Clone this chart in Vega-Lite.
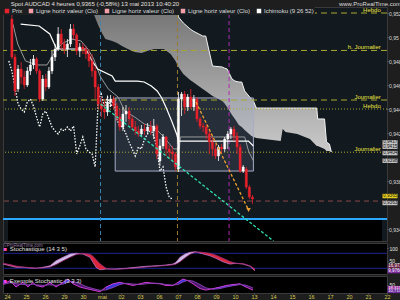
{
"$schema":"https://vega.github.io/schema/vega-lite/v6.json",
"background":"#1e1e1e",
"padding":0,
"spacing":0,
"title":{"text":"Spot AUDCAD 4 heures 0,9365 (-0,58%) 13 mai 2013 10:40:20","anchor":"start","fontSize":6,"font":"Liberation Sans","fontWeight":"normal","color":"#e0e0e0","offset":-7,"dx":10},
"config":{"view":{"stroke":"#3a3a3a"},"axis":{"labelFont":"Liberation Sans","labelFontSize":5,"labelColor":"#dcdcdc","domain":false,"grid":false,"tickSize":1,"tickColor":"#666666","labelOverlap":false},"text":{"font":"Liberation Sans"}},
"resolve":{"scale":{"x":"independent","y":"independent","color":"independent"},"legend":{"color":"independent"}},
"datasets":{
"candles":[
{"u":0,"o":0.9515,"h":0.95208,"l":0.94817,"c":0.94833},
{"u":1,"o":0.94833,"h":0.94858,"l":0.94508,"c":0.9455},
{"u":2,"o":0.94567,"h":0.94767,"l":0.94542,"c":0.94733},
{"u":3,"o":0.94733,"h":0.94792,"l":0.94608,"c":0.94667},
{"u":4,"o":0.94667,"h":0.94717,"l":0.94567,"c":0.946},
{"u":5,"o":0.946,"h":0.9475,"l":0.94583,"c":0.94717},
{"u":6,"o":0.94717,"h":0.94817,"l":0.94683,"c":0.94767},
{"u":7,"o":0.94767,"h":0.9485,"l":0.94733,"c":0.94817},
{"u":8,"o":0.94817,"h":0.94833,"l":0.94692,"c":0.94717},
{"u":9,"o":0.94717,"h":0.94733,"l":0.94458,"c":0.94483},
{"u":10,"o":0.94483,"h":0.94683,"l":0.94467,"c":0.9465},
{"u":11,"o":0.9465,"h":0.94692,"l":0.9455,"c":0.94583},
{"u":12,"o":0.94583,"h":0.9475,"l":0.94567,"c":0.94717},
{"u":13,"o":0.94717,"h":0.94883,"l":0.94692,"c":0.94833},
{"u":14,"o":0.94833,"h":0.94942,"l":0.948,"c":0.949},
{"u":15,"o":0.949,"h":0.95083,"l":0.94883,"c":0.95025},
{"u":16,"o":0.95025,"h":0.95067,"l":0.949,"c":0.94942},
{"u":17,"o":0.94942,"h":0.94983,"l":0.94858,"c":0.949},
{"u":18,"o":0.949,"h":0.94983,"l":0.94833,"c":0.94942},
{"u":19,"o":0.94942,"h":0.95108,"l":0.94917,"c":0.95067},
{"u":20,"o":0.95067,"h":0.95108,"l":0.94983,"c":0.95017},
{"u":21,"o":0.95017,"h":0.95033,"l":0.9485,"c":0.94883},
{"u":22,"o":0.94883,"h":0.9495,"l":0.94833,"c":0.94917},
{"u":23,"o":0.94917,"h":0.9495,"l":0.94858,"c":0.949},
{"u":24,"o":0.949,"h":0.94925,"l":0.94817,"c":0.94858},
{"u":25,"o":0.94858,"h":0.949,"l":0.9475,"c":0.948},
{"u":26,"o":0.948,"h":0.94858,"l":0.94667,"c":0.94717},
{"u":27,"o":0.94717,"h":0.94758,"l":0.94483,"c":0.94583},
{"u":28,"o":0.94583,"h":0.94608,"l":0.944,"c":0.94442},
{"u":29,"o":0.94442,"h":0.945,"l":0.94333,"c":0.944},
{"u":30,"o":0.944,"h":0.94483,"l":0.94317,"c":0.94375},
{"u":31,"o":0.94375,"h":0.945,"l":0.94342,"c":0.94458},
{"u":32,"o":0.94458,"h":0.94517,"l":0.94417,"c":0.94483},
{"u":33,"o":0.94483,"h":0.94508,"l":0.944,"c":0.94425},
{"u":34,"o":0.94425,"h":0.9445,"l":0.943,"c":0.94333},
{"u":35,"o":0.94333,"h":0.944,"l":0.94217,"c":0.9425},
{"u":36,"o":0.9425,"h":0.94417,"l":0.94217,"c":0.94358},
{"u":37,"o":0.94358,"h":0.94433,"l":0.94292,"c":0.94383},
{"u":38,"o":0.94383,"h":0.94417,"l":0.94267,"c":0.94317},
{"u":39,"o":0.94317,"h":0.94342,"l":0.94225,"c":0.9425},
{"u":40,"o":0.9425,"h":0.943,"l":0.94183,"c":0.94217},
{"u":41,"o":0.94217,"h":0.94258,"l":0.94167,"c":0.94192},
{"u":42,"o":0.94192,"h":0.94267,"l":0.94167,"c":0.94233},
{"u":43,"o":0.94233,"h":0.94275,"l":0.94183,"c":0.94217},
{"u":44,"o":0.94217,"h":0.94283,"l":0.94192,"c":0.9425},
{"u":45,"o":0.9425,"h":0.943,"l":0.94183,"c":0.94217},
{"u":46,"o":0.94217,"h":0.94317,"l":0.9415,"c":0.94258},
{"u":47,"o":0.94258,"h":0.94275,"l":0.93983,"c":0.94025},
{"u":48,"o":0.93967,"h":0.9415,"l":0.93925,"c":0.94092},
{"u":49,"o":0.94092,"h":0.94192,"l":0.94067,"c":0.94167},
{"u":50,"o":0.94167,"h":0.94175,"l":0.94008,"c":0.94067},
{"u":51,"o":0.94067,"h":0.941,"l":0.93983,"c":0.94042},
{"u":52,"o":0.94042,"h":0.94092,"l":0.93958,"c":0.94025},
{"u":53,"o":0.94025,"h":0.94042,"l":0.93883,"c":0.93917},
{"u":54,"o":0.939,"h":0.94542,"l":0.93875,"c":0.94483},
{"u":55,"o":0.94483,"h":0.94542,"l":0.94342,"c":0.94525},
{"u":56,"o":0.94525,"h":0.9455,"l":0.94358,"c":0.94417},
{"u":57,"o":0.94417,"h":0.94525,"l":0.94383,"c":0.945},
{"u":58,"o":0.945,"h":0.94567,"l":0.944,"c":0.94417},
{"u":59,"o":0.94417,"h":0.94517,"l":0.94383,"c":0.94483},
{"u":60,"o":0.94483,"h":0.945,"l":0.94292,"c":0.94317},
{"u":61,"o":0.94317,"h":0.94333,"l":0.94233,"c":0.94258},
{"u":62,"o":0.94258,"h":0.94283,"l":0.94208,"c":0.9425},
{"u":63,"o":0.9425,"h":0.94275,"l":0.9415,"c":0.94192},
{"u":64,"o":0.94192,"h":0.94233,"l":0.94025,"c":0.94125},
{"u":65,"o":0.94125,"h":0.94167,"l":0.94008,"c":0.94067},
{"u":66,"o":0.94067,"h":0.94108,"l":0.93983,"c":0.94008},
{"u":67,"o":0.94008,"h":0.941,"l":0.93967,"c":0.94083},
{"u":68,"o":0.94083,"h":0.94108,"l":0.94025,"c":0.94067},
{"u":69,"o":0.94067,"h":0.94167,"l":0.94042,"c":0.9415},
{"u":70,"o":0.9415,"h":0.94217,"l":0.94067,"c":0.94192},
{"u":71,"o":0.94192,"h":0.9425,"l":0.9415,"c":0.94233},
{"u":72,"o":0.94233,"h":0.94258,"l":0.94133,"c":0.94175},
{"u":73,"o":0.94175,"h":0.94208,"l":0.94025,"c":0.94083},
{"u":74,"o":0.94083,"h":0.94108,"l":0.93867,"c":0.93883},
{"u":75,"o":0.93883,"h":0.93933,"l":0.93867,"c":0.93917},
{"u":76,"o":0.939,"h":0.93917,"l":0.93733,"c":0.9375},
{"u":77,"o":0.9375,"h":0.93767,"l":0.9365,"c":0.93667},
{"u":78,"o":0.93667,"h":0.93683,"l":0.93608,"c":0.9365}
],
"chikou":[
{"u":-1,"p":0.948},{"u":0,"p":0.94717},{"u":1,"p":0.94583},{"u":2,"p":0.94442},{"u":3,"p":0.944},{"u":4,"p":0.94375},{"u":5,"p":0.94458},{"u":6,"p":0.94483},{"u":7,"p":0.94425},{"u":8,"p":0.94333},{"u":9,"p":0.9425},{"u":10,"p":0.94358},{"u":11,"p":0.94383},{"u":12,"p":0.94317},{"u":13,"p":0.9425},{"u":14,"p":0.94217},{"u":15,"p":0.94192},{"u":16,"p":0.94233},{"u":17,"p":0.94217},{"u":18,"p":0.9425},{"u":19,"p":0.94217},{"u":20,"p":0.94258},{"u":21,"p":0.94025},{"u":22,"p":0.94092},{"u":23,"p":0.94167},{"u":24,"p":0.94067},{"u":25,"p":0.94042},{"u":26,"p":0.94025},{"u":27,"p":0.93917},{"u":28,"p":0.94483},{"u":29,"p":0.94525},{"u":30,"p":0.94417},{"u":31,"p":0.945},{"u":32,"p":0.94417},{"u":33,"p":0.94483},{"u":34,"p":0.94317},{"u":35,"p":0.94258},{"u":36,"p":0.9425},{"u":37,"p":0.94192},{"u":38,"p":0.94125},{"u":39,"p":0.94067},{"u":40,"p":0.94008},{"u":41,"p":0.94083},{"u":42,"p":0.94067},{"u":43,"p":0.9415},{"u":44,"p":0.94192},{"u":45,"p":0.94233},{"u":46,"p":0.94175},{"u":47,"p":0.94083},{"u":48,"p":0.93883},{"u":49,"p":0.93917},{"u":50,"p":0.9375},{"u":51,"p":0.93667},{"u":52,"p":0.9365}
],
"kijun":[
{"u":2.84,"p":0.95108},{"u":8.84,"p":0.95092},{"u":12.3,"p":0.95025},{"u":14.5,"p":0.949},{"u":24,"p":0.949},{"u":26.2,"p":0.94792},{"u":27.8,"p":0.94733},{"u":32.5,"p":0.94675},{"u":33.5,"p":0.94633},{"u":40.7,"p":0.94633},{"u":42.9,"p":0.94625},{"u":45.2,"p":0.94592},{"u":47.1,"p":0.9455},{"u":48.6,"p":0.94492},{"u":50.2,"p":0.944},{"u":51.8,"p":0.943},{"u":53.4,"p":0.94192},{"u":54,"p":0.94133},{"u":76.7,"p":0.94133},{"u":78.3,"p":0.94092}
],
"tenkan":[
{"u":0.32,"p":0.95108},{"u":1.89,"p":0.94942},{"u":4.42,"p":0.948},{"u":8.21,"p":0.94767},{"u":11.37,"p":0.94767},{"u":13.58,"p":0.94858},{"u":16.1,"p":0.94942},{"u":19.26,"p":0.94983},{"u":22.42,"p":0.94967},{"u":24.63,"p":0.949},{"u":26.53,"p":0.94817},{"u":28.74,"p":0.94667},{"u":31.26,"p":0.94567},{"u":34.42,"p":0.945},{"u":36.63,"p":0.94383},{"u":39.79,"p":0.94333},{"u":42.95,"p":0.94275},{"u":46.1,"p":0.9425},{"u":49.26,"p":0.94167},{"u":52.42,"p":0.94067},{"u":54.3,"p":0.94067},{"u":54.63,"p":0.94167},{"u":75.47,"p":0.94167},{"u":76.74,"p":0.9405},{"u":78.32,"p":0.93967}
],
"cloud":[
{"u":25.58,"top":0.95317,"bot":0.9525},{"u":26.53,"top":0.95317,"bot":0.95192},{"u":28.11,"top":0.95317,"bot":0.95092},{"u":29.37,"top":0.95317,"bot":0.95025},{"u":30.32,"top":0.95317,"bot":0.94983},{"u":32.53,"top":0.95317,"bot":0.94967},{"u":34.11,"top":0.95317,"bot":0.9495},{"u":35.68,"top":0.95317,"bot":0.94925},{"u":37.58,"top":0.95317,"bot":0.949},{"u":39.79,"top":0.95317,"bot":0.94875},{"u":42,"top":0.95317,"bot":0.94867},{"u":43.89,"top":0.95317,"bot":0.94883},{"u":46.11,"top":0.95317,"bot":0.949},{"u":49.26,"top":0.95317,"bot":0.949},{"u":51.47,"top":0.95317,"bot":0.94858},{"u":53.05,"top":0.95317,"bot":0.948},{"u":54,"top":0.95167,"bot":0.9475},{"u":55.58,"top":0.95117,"bot":0.94692},{"u":57.79,"top":0.95067,"bot":0.94642},{"u":58.74,"top":0.9505,"bot":0.94625},{"u":61.89,"top":0.95008,"bot":0.94567},{"u":62.84,"top":0.95008,"bot":0.9455},{"u":65.05,"top":0.94758,"bot":0.94508},{"u":68.21,"top":0.9475,"bot":0.94467},{"u":68.84,"top":0.94742,"bot":0.9445},{"u":69.79,"top":0.94733,"bot":0.94417},{"u":71.37,"top":0.9465,"bot":0.9435},{"u":72.32,"top":0.94633,"bot":0.94317},{"u":73.58,"top":0.94625,"bot":0.94267},{"u":74.53,"top":0.94625,"bot":0.9425},{"u":75.47,"top":0.9455,"bot":0.94225},{"u":77.68,"top":0.94483,"bot":0.94175},{"u":78.32,"top":0.94467,"bot":0.94167},{"u":79.26,"top":0.94408,"bot":0.94158},{"u":81.79,"top":0.94408,"bot":0.9415},{"u":87.16,"top":0.94408,"bot":0.94133},{"u":87.79,"top":0.94408,"bot":0.94233},{"u":88.74,"top":0.94408,"bot":0.94208},{"u":92.53,"top":0.94408,"bot":0.94192},{"u":96.63,"top":0.94408,"bot":0.9415},{"u":98.84,"top":0.94408,"bot":0.94092},{"u":99.16,"top":0.94317,"bot":0.94092},{"u":101.37,"top":0.94317,"bot":0.94067},{"u":102,"top":0.94125,"bot":0.9405},{"u":102.95,"top":0.94108,"bot":0.9405},{"u":103.58,"top":0.94042,"bot":0.94042}
],
"hlines":[
{"p":0.952,"kind":"dash","label":"Hebdo"},{"p":0.94888,"kind":"dash","label":"h. Journalier"},{"p":0.94475,"kind":"dash","label":"Journalier"},{"p":0.944,"kind":"dot","label":"Hebdo"},{"p":0.9404,"kind":"dot","label":"Journalier"}
],
"vlines":[{"u":28.74,"kind":"a"},{"u":53.68,"kind":"b"},{"u":70.42,"kind":"c"}],
"plabels":[
{"p":0.94122,"t":"0,9417","k":"g"},{"p":0.94086,"t":"0,9415","k":"g"},{"p":0.94033,"t":"0,9404","k":"g"},{"p":0.93969,"t":"0,9398","k":"g"},{"p":0.93675,"t":"0,9365","k":"y"},{"p":0.93617,"t":"0,9363","k":"g"}
],
"stoch":[
{"u":-1.26,"k":37,"d":40,"seg":1,"dir":"down"},{"u":0.95,"k":30,"d":35,"seg":1,"dir":"down"},{"u":2.84,"k":24,"d":29,"seg":1,"dir":"down"},{"u":5.05,"k":24,"d":25,"seg":1,"dir":"down"},{"u":7.26,"k":21,"d":23,"seg":1,"dir":"down"},{"u":9.16,"k":20,"d":21,"seg":1,"dir":"down"},{"u":9.79,"k":21,"d":21,"seg":1,"dir":"down"},
{"u":9.79,"k":21,"d":21,"seg":2,"dir":"up"},{"u":11.37,"k":24,"d":21,"seg":2,"dir":"up"},{"u":13.58,"k":30,"d":25,"seg":2,"dir":"up"},{"u":15.47,"k":50,"d":35,"seg":2,"dir":"up"},{"u":17.68,"k":64,"d":50,"seg":2,"dir":"up"},{"u":19.89,"k":77,"d":64,"seg":2,"dir":"up"},{"u":21.79,"k":80,"d":75,"seg":2,"dir":"up"},{"u":23.05,"k":78,"d":78,"seg":2,"dir":"up"},
{"u":23.05,"k":78,"d":78,"seg":3,"dir":"down"},{"u":24,"k":77,"d":80,"seg":3,"dir":"down"},{"u":26.21,"k":64,"d":76,"seg":3,"dir":"down"},{"u":27.16,"k":44,"d":68,"seg":3,"dir":"down"},{"u":28.11,"k":24,"d":55,"seg":3,"dir":"down"},{"u":29.37,"k":14,"d":38,"seg":3,"dir":"down"},{"u":31.26,"k":17,"d":20,"seg":3,"dir":"down"},{"u":32.84,"k":17,"d":17,"seg":3,"dir":"down"},
{"u":32.84,"k":17,"d":17,"seg":4,"dir":"up"},{"u":34.42,"k":17,"d":16,"seg":4,"dir":"up"},{"u":37.58,"k":20,"d":18,"seg":4,"dir":"up"},{"u":40.74,"k":24,"d":21,"seg":4,"dir":"up"},{"u":43.89,"k":28,"d":25,"seg":4,"dir":"up"},{"u":47.05,"k":30,"d":28,"seg":4,"dir":"up"},{"u":50.21,"k":33,"d":31,"seg":4,"dir":"up"},{"u":52.42,"k":37,"d":34,"seg":4,"dir":"up"},{"u":53.37,"k":44,"d":37,"seg":4,"dir":"up"},{"u":54.63,"k":64,"d":46,"seg":4,"dir":"up"},{"u":56.21,"k":77,"d":62,"seg":4,"dir":"up"},{"u":57.79,"k":84,"d":76,"seg":4,"dir":"up"},{"u":59.37,"k":86,"d":84,"seg":4,"dir":"up"},{"u":60,"k":85,"d":85,"seg":4,"dir":"up"},
{"u":60,"k":85,"d":85,"seg":5,"dir":"down"},{"u":60.95,"k":81,"d":85,"seg":5,"dir":"down"},{"u":64.11,"k":70,"d":80,"seg":5,"dir":"down"},{"u":66,"k":60,"d":72,"seg":5,"dir":"down"},{"u":68.21,"k":46,"d":60,"seg":5,"dir":"down"},{"u":70.42,"k":37,"d":47,"seg":5,"dir":"down"},{"u":72.32,"k":40,"d":40,"seg":5,"dir":"down"},{"u":74.53,"k":37,"d":39,"seg":5,"dir":"down"},{"u":76.74,"k":28,"d":30,"seg":5,"dir":"down"},{"u":78.32,"k":10,"d":17,"seg":5,"dir":"down"}
],
"fast":[
{"u":-1.26,"k":54,"d":50},{"u":0.95,"k":72,"d":60},{"u":2.84,"k":35,"d":55},{"u":5.05,"k":63,"d":50},{"u":6.63,"k":35,"d":48},{"u":8.21,"k":63,"d":52},{"u":9.16,"k":44,"d":48},{"u":11.37,"k":35,"d":45},{"u":13.58,"k":63,"d":48},{"u":15.47,"k":35,"d":45},{"u":17.68,"k":63,"d":52},{"u":19.26,"k":82,"d":65},{"u":20.84,"k":54,"d":68},{"u":23.05,"k":35,"d":55},{"u":24.95,"k":26,"d":38},{"u":27.16,"k":17,"d":26},{"u":29.37,"k":7,"d":16},{"u":31.26,"k":35,"d":18},{"u":33.47,"k":54,"d":32},{"u":35.68,"k":63,"d":50},{"u":37.58,"k":54,"d":57},{"u":39.79,"k":44,"d":53},{"u":42,"k":54,"d":50},{"u":43.89,"k":63,"d":54},{"u":46.11,"k":57,"d":58},{"u":48.32,"k":54,"d":56},{"u":50.21,"k":44,"d":50},{"u":52.42,"k":44,"d":47},{"u":54,"k":63,"d":50},{"u":55.58,"k":82,"d":65},{"u":57.16,"k":72,"d":75},{"u":58.74,"k":54,"d":70},{"u":60.95,"k":26,"d":50},{"u":62.84,"k":17,"d":30},{"u":65.05,"k":26,"d":22},{"u":67.26,"k":35,"d":26},{"u":69.16,"k":44,"d":35},{"u":71.37,"k":50,"d":43},{"u":73.58,"k":54,"d":50},{"u":75.47,"k":35,"d":46},{"u":77.68,"k":17,"d":30}
],
"fastup":[
{"u":17.68,"k":63,"d":52,"seg":9},{"u":19.26,"k":82,"d":65,"seg":9},{"u":20.84,"k":54,"d":68,"seg":9},
{"u":31.26,"k":35,"d":18,"seg":11},{"u":33.47,"k":54,"d":32,"seg":11},{"u":35.68,"k":63,"d":50,"seg":11},{"u":37.58,"k":54,"d":57,"seg":11},
{"u":54,"k":63,"d":50,"seg":15},{"u":55.58,"k":82,"d":65,"seg":15},{"u":57.16,"k":72,"d":75,"seg":15},
{"u":65.05,"k":26,"d":22,"seg":17},{"u":67.26,"k":35,"d":26,"seg":17},{"u":69.16,"k":44,"d":35,"seg":17},{"u":71.37,"k":50,"d":43,"seg":17},{"u":73.58,"k":54,"d":50,"seg":17},{"u":75.47,"k":35,"d":46,"seg":17}
]
},
"vconcat":[
{
"width":384,"height":234,
"title":{"text":"www.ProRealTime.com","anchor":"end","frame":"group","fontSize":6,"font":"Liberation Sans","fontWeight":"normal","color":"#dddddd","offset":0,"dx":14},
"view":{"fill":"#121a1f","stroke":"#3a3a3a"},
"layer":[
{"data":{"values":[{"a":0.933,"b":0.93483}]},"mark":{"type":"rect","color":"#000000"},
 "encoding":{"x":{"datum":-1.263,"type":"quantitative","scale":{"domain":[-1.263,120],"nice":false,"zero":false},"axis":null},"x2":{"datum":120},
 "y":{"field":"a","type":"quantitative","scale":{"domain":[0.933,0.9525],"nice":false,"zero":false},"axis":{"orient":"right","values":[0.934,0.938,0.942,0.944,0.946,0.948,0.95,0.952],"tickCount":40,"labelExpr":"replace(format(datum.value, '.3~f'), '.', ',')","title":null,"labelPadding":0.5,"labelOverlap":false}},"y2":{"field":"b"}}},
{"data":{"name":"cloud"},"mark":{"type":"area","clip":true,"color":{"gradient":"linear","x1":0,"y1":0,"x2":0,"y2":1,"stops":[{"offset":0,"color":"#6e6e6e"},{"offset":1,"color":"#cacaca"}]}},
 "encoding":{"x":{"field":"u","type":"quantitative","scale":{"domain":[-1.263,120],"nice":false,"zero":false},"axis":null},"y":{"field":"top","type":"quantitative","scale":{"domain":[0.933,0.9525],"nice":false,"zero":false}},"y2":{"field":"bot"}}},
{"data":{"name":"cloud"},"transform":[{"filter":"datum.u >= 53"}],"mark":{"type":"line","color":"#f2f2f2","strokeWidth":1,"clip":true},
 "encoding":{"x":{"field":"u","type":"quantitative","scale":{"domain":[-1.263,120],"nice":false,"zero":false},"axis":null},"y":{"field":"top","type":"quantitative","scale":{"domain":[0.933,0.9525],"nice":false,"zero":false}}}},
{"data":{"values":[{"u1":33.5,"u2":78.3,"p1":0.94492,"p2":0.93883}]},"mark":{"type":"rect","fill":"#8a9ac0","fillOpacity":0.16,"stroke":"#a8acc8","strokeWidth":1},
 "encoding":{"x":{"field":"u1","type":"quantitative","scale":{"domain":[-1.263,120],"nice":false,"zero":false},"axis":null},"x2":{"field":"u2"},"y":{"field":"p1","type":"quantitative","scale":{"domain":[0.933,0.9525],"nice":false,"zero":false}},"y2":{"field":"p2"}}},
{"data":{"name":"hlines"},"mark":{"type":"rule","color":"#a8a832","strokeWidth":1},
 "encoding":{"y":{"field":"p","type":"quantitative","scale":{"domain":[0.933,0.9525],"nice":false,"zero":false}},"strokeDash":{"field":"kind","type":"nominal","scale":{"domain":["dash","dot"],"range":[[6,4],[1,2]]},"legend":null}}},
{"data":{"values":[{"p":0.93633}]},"mark":{"type":"rule","color":"#8c4a4a","strokeWidth":1,"strokeDash":[5,4]},
 "encoding":{"y":{"field":"p","type":"quantitative","scale":{"domain":[0.933,0.9525],"nice":false,"zero":false}}}},
{"data":{"values":[{"p":0.93483}]},"mark":{"type":"rule","color":"#2ea8ff","strokeWidth":2},
 "encoding":{"y":{"field":"p","type":"quantitative","scale":{"domain":[0.933,0.9525],"nice":false,"zero":false}}}},
{"data":{"name":"vlines"},"mark":{"type":"rule","strokeWidth":1,"strokeDash":[4,3]},
 "encoding":{"x":{"field":"u","type":"quantitative","scale":{"domain":[-1.263,120],"nice":false,"zero":false},"axis":null},"stroke":{"field":"kind","type":"nominal","scale":{"domain":["a","b","c"],"range":["#3b86b0","#9a7a30","#b02cb0"]},"legend":null}}},
{"data":{"name":"tenkan"},"mark":{"type":"line","color":"#9a9a9a","strokeWidth":1,"clip":true},
 "encoding":{"x":{"field":"u","type":"quantitative","scale":{"domain":[-1.263,120],"nice":false,"zero":false},"axis":null},"y":{"field":"p","type":"quantitative","scale":{"domain":[0.933,0.9525],"nice":false,"zero":false}}}},
{"data":{"name":"kijun"},"mark":{"type":"line","color":"#ffffff","strokeWidth":1.2,"clip":true},
 "encoding":{"x":{"field":"u","type":"quantitative","scale":{"domain":[-1.263,120],"nice":false,"zero":false},"axis":null},"y":{"field":"p","type":"quantitative","scale":{"domain":[0.933,0.9525],"nice":false,"zero":false}}}},
{"data":{"name":"chikou"},"mark":{"type":"line","color":"#ffffff","strokeWidth":1.3,"strokeDash":[1.5,1.5],"clip":true},
 "encoding":{"x":{"field":"u","type":"quantitative","scale":{"domain":[-1.263,120],"nice":false,"zero":false},"axis":null},"y":{"field":"p","type":"quantitative","scale":{"domain":[0.933,0.9525],"nice":false,"zero":false}}}},
{"data":{"name":"candles"},"mark":{"type":"rule","strokeWidth":0.8},
 "encoding":{"x":{"field":"u","type":"quantitative","scale":{"domain":[-1.263,120],"nice":false,"zero":false},"axis":null},"y":{"field":"l","type":"quantitative","scale":{"domain":[0.933,0.9525],"nice":false,"zero":false}},"y2":{"field":"h"},
 "color":{"condition":{"test":"datum.c >= datum.o","value":"#ffffff"},"value":"#e8222c"}}},
{"data":{"name":"candles"},"mark":{"type":"bar","size":2.2,"strokeWidth":0.4},
 "encoding":{"x":{"field":"u","type":"quantitative","scale":{"domain":[-1.263,120],"nice":false,"zero":false},"axis":null},"y":{"field":"o","type":"quantitative","scale":{"domain":[0.933,0.9525],"nice":false,"zero":false}},"y2":{"field":"c"},
 "fill":{"condition":{"test":"datum.c >= datum.o","value":"#ffffff"},"value":"#e8222c"},
 "stroke":{"condition":{"test":"datum.c >= datum.o","value":"#ffffff"},"value":"#e8222c"}}},
{"data":{"values":[{"u":28.74,"p":0.94442},{"u":84.8,"p":0.933}]},"mark":{"type":"line","color":"#2ee0b0","strokeWidth":1.3,"strokeDash":[3,2],"clip":true},
 "encoding":{"x":{"field":"u","type":"quantitative","scale":{"domain":[-1.263,120],"nice":false,"zero":false},"axis":null},"y":{"field":"p","type":"quantitative","scale":{"domain":[0.933,0.9525],"nice":false,"zero":false}}}},
{"data":{"values":[{"u":59.68,"p":0.94458},{"u":76.74,"p":0.93558}]},"mark":{"type":"line","color":"#f0a030","strokeWidth":1.3,"strokeDash":[3,2]},
 "encoding":{"x":{"field":"u","type":"quantitative","scale":{"domain":[-1.263,120],"nice":false,"zero":false},"axis":null},"y":{"field":"p","type":"quantitative","scale":{"domain":[0.933,0.9525],"nice":false,"zero":false}}}},
{"data":{"values":[{"u":76.74,"p":0.93558}]},"mark":{"type":"point","shape":"triangle-down","filled":true,"color":"#f0a030","size":20,"opacity":1},
 "encoding":{"x":{"field":"u","type":"quantitative","scale":{"domain":[-1.263,120],"nice":false,"zero":false},"axis":null},"y":{"field":"p","type":"quantitative","scale":{"domain":[0.933,0.9525],"nice":false,"zero":false}}}},
{"data":{"name":"hlines"},"mark":{"type":"text","align":"right","baseline":"bottom","fontSize":6,"color":"#f0e040","dy":-0.5},
 "encoding":{"x":{"datum":119.6,"type":"quantitative","scale":{"domain":[-1.263,120],"nice":false,"zero":false},"axis":null},"y":{"field":"p","type":"quantitative","scale":{"domain":[0.933,0.9525],"nice":false,"zero":false}},"text":{"field":"label"}}},
{"data":{"name":"plabels"},"mark":{"type":"tick","orient":"horizontal","size":15,"thickness":4.5,"opacity":1},
 "encoding":{"x":{"datum":122.6,"type":"quantitative","scale":{"domain":[-1.263,120],"nice":false,"zero":false},"axis":null},"y":{"field":"p","type":"quantitative","scale":{"domain":[0.933,0.9525],"nice":false,"zero":false}},
 "color":{"condition":{"test":"datum.k == 'y'","value":"#e8d020"},"value":"#c4c4c4"}}},
{"data":{"name":"plabels"},"mark":{"type":"text","align":"left","baseline":"middle","fontSize":4.6,"color":"#111111"},
 "encoding":{"x":{"datum":120.4,"type":"quantitative","scale":{"domain":[-1.263,120],"nice":false,"zero":false},"axis":null},"y":{"field":"p","type":"quantitative","scale":{"domain":[0.933,0.9525],"nice":false,"zero":false}},"text":{"field":"t"}}},
{"data":{"values":[{"name":"Prix"},{"name":"Ligne horiz valeur (Clo)"},{"name":"Ligne horiz valeur (Clo) "},{"name":"Ligne horiz valeur (Clo)  "},{"name":"Ichimoku (9 26 52)"}]},
 "mark":{"type":"square","opacity":0,"size":1},
 "encoding":{"color":{"field":"name","type":"nominal","scale":{"domain":["Prix","Ligne horiz valeur (Clo)","Ligne horiz valeur (Clo) ","Ligne horiz valeur (Clo)  ","Ichimoku (9 26 52)"],"range":["#e8222c","#f4a0a8","#f4a0a8","#f4a0a8","#ffffff"]},
 "legend":{"orient":"top-left","direction":"horizontal","title":null,"labelFontSize":6,"labelColor":"#dddddd","labelFont":"Liberation Sans","symbolType":"square","symbolSize":20,"symbolOpacity":1,"columnPadding":5,"padding":1,"offset":0,"fillColor":"#1b1f22","labelOffset":2,"labelLimit":200,"encode":{"symbols":{"update":{"opacity":{"value":1}}}}}}}}
]
},
{
"width":384,"height":31,
"view":{"fill":"#000000","stroke":"#3a3a3a"},
"layer":[
{"data":{"values":[{"v":80},{"v":20}]},"mark":{"type":"rule","color":"#1c2690","strokeWidth":1},
 "encoding":{"y":{"field":"v","type":"quantitative","scale":{"domain":[-2.8,121.2],"nice":false,"zero":false},"axis":{"orient":"right","values":[50,100],"tickCount":10,"title":null,"labelColor":"#e8e8e8","labelPadding":1}}}},
{"data":{"name":"stoch"},"mark":{"type":"area","opacity":0.95},
 "encoding":{"x":{"field":"u","type":"quantitative","scale":{"domain":[-1.263,120],"nice":false,"zero":false},"axis":null},"y":{"field":"k","type":"quantitative","stack":null,"scale":{"domain":[-2.8,121.2],"nice":false,"zero":false}},"y2":{"field":"d"},
 "color":{"field":"dir","type":"nominal","scale":{"domain":["down","up"],"range":["#e8283c","#d8c8f0"]},"legend":null},"detail":{"field":"seg"}}},
{"data":{"name":"stoch"},"mark":{"type":"line","color":"#c070c8","strokeWidth":0.8},
 "encoding":{"x":{"field":"u","type":"quantitative","scale":{"domain":[-1.263,120],"nice":false,"zero":false},"axis":null},"y":{"field":"k","type":"quantitative","scale":{"domain":[-2.8,121.2],"nice":false,"zero":false}}}},
{"data":{"name":"stoch"},"mark":{"type":"line","color":"#9a2a7a","strokeWidth":0.8},
 "encoding":{"x":{"field":"u","type":"quantitative","scale":{"domain":[-1.263,120],"nice":false,"zero":false},"axis":null},"y":{"field":"d","type":"quantitative","scale":{"domain":[-2.8,121.2],"nice":false,"zero":false}}}},
{"data":{"values":[{"t":"©ProRealTime.com"}]},"mark":{"type":"text","align":"left","baseline":"middle","fontSize":4.5,"color":"#9a7aa8"},
 "encoding":{"x":{"datum":-1.1,"type":"quantitative","scale":{"domain":[-1.263,120],"nice":false,"zero":false},"axis":null},"y":{"datum":111,"type":"quantitative","scale":{"domain":[-2.8,121.2],"nice":false,"zero":false}},"text":{"field":"t"}}},
{"data":{"values":[{"t":"■"}]},"mark":{"type":"text","align":"left","baseline":"middle","fontSize":6,"color":"#f050c0"},
 "encoding":{"x":{"datum":-1.1,"type":"quantitative","scale":{"domain":[-1.263,120],"nice":false,"zero":false},"axis":null},"y":{"datum":98,"type":"quantitative","scale":{"domain":[-2.8,121.2],"nice":false,"zero":false}},"text":{"field":"t"}}},
{"data":{"values":[{"t":"Stochastique (14 3 5)"}]},"mark":{"type":"text","align":"left","baseline":"middle","fontSize":6,"color":"#e0e0e0"},
 "encoding":{"x":{"datum":0.9,"type":"quantitative","scale":{"domain":[-1.263,120],"nice":false,"zero":false},"axis":null},"y":{"datum":98,"type":"quantitative","scale":{"domain":[-2.8,121.2],"nice":false,"zero":false}},"text":{"field":"t"}}},
{"data":{"values":[{"v":29,"t":"16,972","k":"a"},{"v":9,"t":"9,9766","k":"b"}]},"mark":{"type":"tick","orient":"horizontal","size":15,"thickness":4.5,"opacity":1},
 "encoding":{"x":{"datum":122.6,"type":"quantitative","scale":{"domain":[-1.263,120],"nice":false,"zero":false},"axis":null},"y":{"field":"v","type":"quantitative","scale":{"domain":[-2.8,121.2],"nice":false,"zero":false}},
 "color":{"condition":{"test":"datum.k == 'a'","value":"#6a2040"},"value":"#7a2a9a"}}},
{"data":{"values":[{"v":29,"t":"16,972"},{"v":9,"t":"9,9766"}]},"mark":{"type":"text","align":"left","baseline":"middle","fontSize":4.5,"color":"#ffffff"},
 "encoding":{"x":{"datum":120.4,"type":"quantitative","scale":{"domain":[-1.263,120],"nice":false,"zero":false},"axis":null},"y":{"field":"v","type":"quantitative","scale":{"domain":[-2.8,121.2],"nice":false,"zero":false}},"text":{"field":"t"}}}
]
},
{
"width":384,"height":17,
"view":{"fill":"#000000","stroke":"#3a3a3a"},
"layer":[
{"data":{"name":"fast"},"mark":{"type":"area","color":"#4a1a6a"},
 "encoding":{"x":{"field":"u","type":"quantitative","scale":{"domain":[-1.263,120],"nice":false,"zero":false},"axis":{"orient":"bottom","values":[0,6,12,18,24,30,36,42,48,54,60,66,72,78,84,90,96,102,108,114,120],"tickCount":60,"labelExpr":"['24','25','26','29','30','mai','02','03','06','07','08','09','10','13','14','15','16','17','20','21','22'][round(datum.value/6)]","labelColor":"#d8cc50","labelFontSize":5.5,"labelPadding":0,"tickSize":1,"title":null,"labelOverlap":false,"labelFlush":false,"labelBound":false}},
 "y":{"field":"k","type":"quantitative","stack":null,"scale":{"domain":[0,100],"nice":false,"zero":false},"axis":{"orient":"right","values":[50],"tickCount":10,"title":null,"labelColor":"#e8e8e8","labelPadding":1}},"y2":{"field":"d"}}},
{"data":{"name":"fastup"},"mark":{"type":"area","color":"#3636d8"},
 "encoding":{"x":{"field":"u","type":"quantitative","scale":{"domain":[-1.263,120],"nice":false,"zero":false}},"y":{"field":"k","type":"quantitative","stack":null,"scale":{"domain":[0,100],"nice":false,"zero":false}},"y2":{"field":"d"},"detail":{"field":"seg"}}},
{"data":{"name":"fast"},"mark":{"type":"line","color":"#e040e0","strokeWidth":0.9},
 "encoding":{"x":{"field":"u","type":"quantitative","scale":{"domain":[-1.263,120],"nice":false,"zero":false}},"y":{"field":"k","type":"quantitative","scale":{"domain":[0,100],"nice":false,"zero":false}}}},
{"data":{"name":"fast"},"mark":{"type":"line","color":"#8a40b8","strokeWidth":0.9},
 "encoding":{"x":{"field":"u","type":"quantitative","scale":{"domain":[-1.263,120],"nice":false,"zero":false}},"y":{"field":"d","type":"quantitative","scale":{"domain":[0,100],"nice":false,"zero":false}}}},
{"data":{"values":[{"t":"■"}]},"mark":{"type":"text","align":"left","baseline":"middle","fontSize":6,"color":"#f040f0"},
 "encoding":{"x":{"datum":-1.1,"type":"quantitative","scale":{"domain":[-1.263,120],"nice":false,"zero":false}},"y":{"datum":72,"type":"quantitative","scale":{"domain":[0,100],"nice":false,"zero":false}},"text":{"field":"t"}}},
{"data":{"values":[{"t":"Exemple Stochastic (3 3 3)"}]},"mark":{"type":"text","align":"left","baseline":"middle","fontSize":6,"color":"#e0e0e0"},
 "encoding":{"x":{"datum":0.9,"type":"quantitative","scale":{"domain":[-1.263,120],"nice":false,"zero":false}},"y":{"datum":72,"type":"quantitative","scale":{"domain":[0,100],"nice":false,"zero":false}},"text":{"field":"t"}}},
{"data":{"values":[{"v":30,"t":"18,313","k":"a"},{"v":11,"t":"10,713","k":"b"}]},"mark":{"type":"tick","orient":"horizontal","size":15,"thickness":4,"opacity":1},
 "encoding":{"x":{"datum":122.6,"type":"quantitative","scale":{"domain":[-1.263,120],"nice":false,"zero":false}},"y":{"field":"v","type":"quantitative","scale":{"domain":[0,100],"nice":false,"zero":false}},
 "color":{"condition":{"test":"datum.k == 'a'","value":"#a030a0"},"value":"#6a2a9a"}}},
{"data":{"values":[{"v":30,"t":"18,313"},{"v":11,"t":"10,713"}]},"mark":{"type":"text","align":"left","baseline":"middle","fontSize":4.2,"color":"#ffffff"},
 "encoding":{"x":{"datum":120.4,"type":"quantitative","scale":{"domain":[-1.263,120],"nice":false,"zero":false}},"y":{"field":"v","type":"quantitative","scale":{"domain":[0,100],"nice":false,"zero":false}},"text":{"field":"t"}}}
]
}
]
}
